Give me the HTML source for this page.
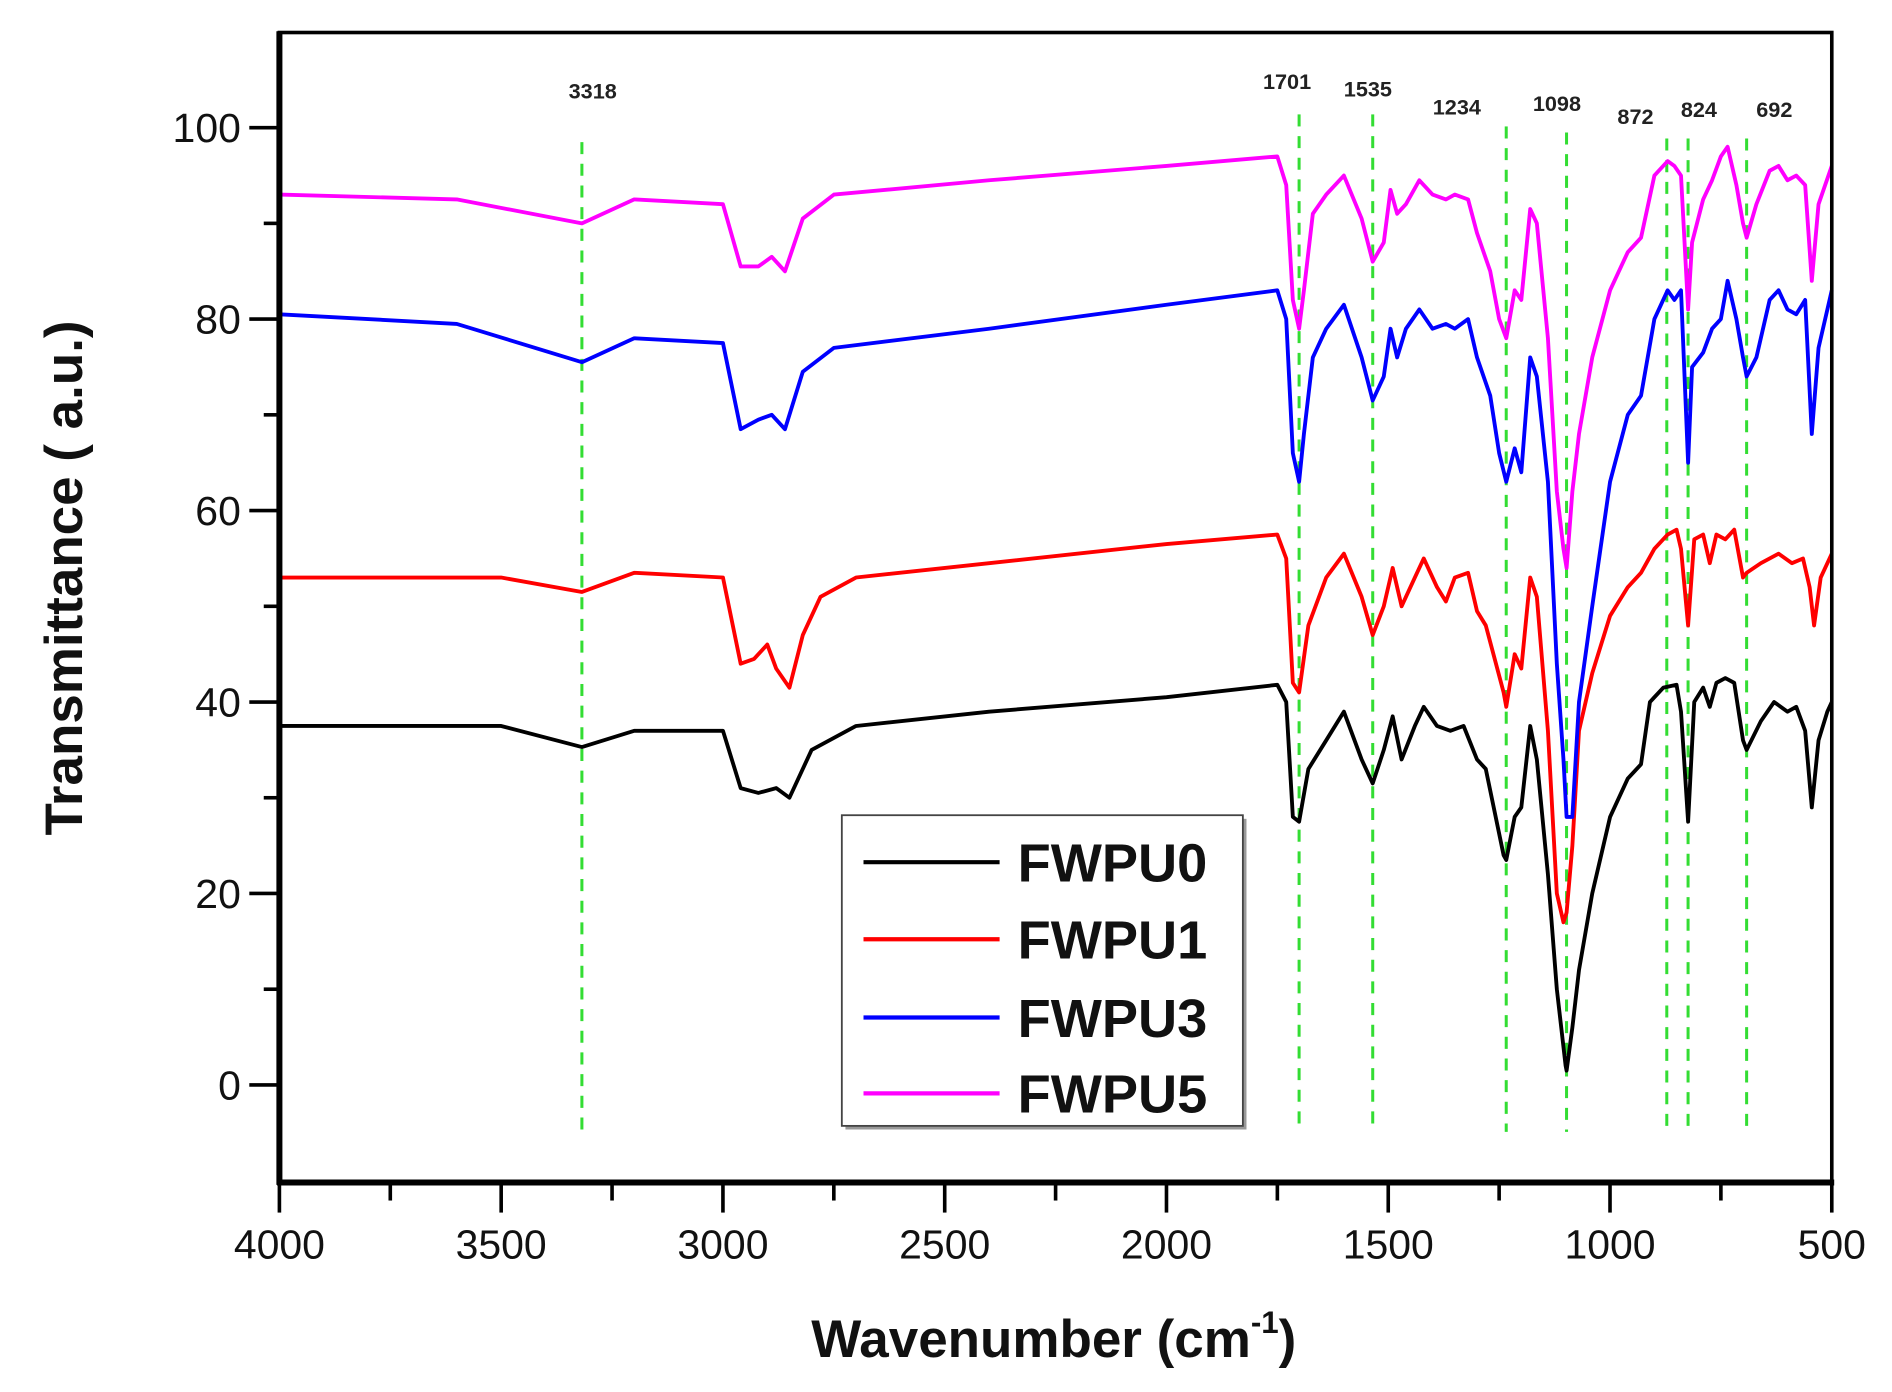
<!DOCTYPE html>
<html><head><meta charset="utf-8"><style>
html,body{margin:0;padding:0;background:#fff;}
svg{display:block;font-family:"Liberation Sans",Arial,sans-serif;}
</style></head><body>
<svg id="chart" width="1892" height="1392" viewBox="0 0 1571 1156" preserveAspectRatio="none" xmlns="http://www.w3.org/2000/svg">
<g id="grid-layer"></g>
<g id="series-layer"></g>
<g id="axes-layer"></g>
</svg>
<script>
const xTicks=[4000,3500,3000,2500,2000,1500,1000,500];
const yTicks=[0,20,40,60,80,100];
const peaks=[3318,1701,1535,1234,1098,872,824,692];
const seriesNames=["FWPU0","FWPU1","FWPU3","FWPU5"];
const seriesColors=["#000000","#ff0000","#0000ff","#ff00ff"];

const x0=[4000,3500,3318,3200,3000,2960,2920,2880,2850,2800,2700,2400,2000,1750,1730,1715,1701,1680,1640,1600,1560,1535,1510,1490,1470,1440,1420,1390,1360,1330,1300,1280,1240,1234,1215,1200,1180,1165,1140,1120,1100,1098,1085,1070,1040,1000,960,930,910,880,850,840,824,810,790,775,760,740,720,700,692,660,630,600,580,560,545,530,510,500];
const y0=[37.5,37.5,35.3,37,37,31,30.5,31,30,35,37.5,39,40.5,41.8,40,28,27.5,33,36,39,34,31.5,35,38.5,34,37.5,39.5,37.5,37,37.5,34,33,24,23.5,28,29,37.5,34,22,10,2,1.5,6,12,20,28,32,33.5,40,41.5,41.8,39,27.5,40,41.5,39.5,42,42.5,42,36,35,38,40,39,39.5,37,29,36,39,40];

const x1=[4000,3500,3318,3200,3000,2960,2930,2900,2880,2850,2820,2780,2700,2400,2000,1750,1730,1715,1701,1680,1640,1600,1560,1535,1510,1490,1470,1440,1420,1390,1370,1350,1320,1300,1280,1240,1234,1215,1200,1180,1165,1140,1120,1105,1098,1085,1070,1040,1000,960,930,900,870,850,840,824,810,790,775,760,740,720,700,692,660,620,590,565,550,540,525,500];
const y1=[53,53,51.5,53.5,53,44,44.5,46,43.5,41.5,47,51,53,54.5,56.5,57.5,55,42,41,48,53,55.5,51,47,50,54,50,53,55,52,50.5,53,53.5,49.5,48,41,39.5,45,43.5,53,51,37,20,17,18,25,37,43,49,52,53.5,56,57.5,58,56,48,57,57.5,54.5,57.5,57,58,53,53.5,54.5,55.5,54.5,55,52,48,53,55.5];

const x3=[4000,3600,3318,3200,3000,2960,2920,2890,2860,2820,2750,2400,2000,1750,1730,1715,1701,1690,1670,1640,1600,1560,1535,1510,1495,1480,1460,1430,1400,1370,1350,1320,1300,1270,1250,1234,1215,1200,1180,1165,1140,1120,1105,1098,1085,1070,1040,1000,960,930,900,870,855,840,824,815,790,770,750,735,715,700,692,670,640,620,600,580,560,545,530,500];
const y3=[80.5,79.5,75.5,78,77.5,68.5,69.5,70,68.5,74.5,77,79,81.5,83,80,66,63,68,76,79,81.5,76,71.5,74,79,76,79,81,79,79.5,79,80,76,72,66,63,66.5,64,76,74,63,44,34,28,28,40,50,63,70,72,80,83,82,83,65,75,76.5,79,80,84,80,76,74,76,82,83,81,80.5,82,68,77,83];

const x5=[4000,3600,3318,3200,3000,2960,2920,2890,2860,2820,2750,2400,2000,1750,1730,1715,1701,1690,1670,1640,1600,1560,1535,1510,1495,1480,1460,1430,1400,1370,1350,1320,1300,1270,1250,1234,1215,1200,1180,1165,1140,1120,1105,1098,1085,1070,1040,1000,960,930,900,870,855,840,824,815,790,770,750,735,715,700,692,670,640,620,600,580,560,545,530,500];
const y5=[93,92.5,90,92.5,92,85.5,85.5,86.5,85,90.5,93,94.5,96,97,94,82,79,83,91,93,95,90.5,86,88,93.5,91,92,94.5,93,92.5,93,92.5,89,85,80,78,83,82,91.5,90,78,62,56,54,62,68,76,83,87,88.5,95,96.5,96,95,81,88,92.5,94.5,97,98,94,90,88.5,92,95.5,96,94.5,95,94,84,92,96];

const NS="http://www.w3.org/2000/svg";
const L=232,R=1521,T=27,B=982;
function sx(w){return L+(4000-w)*(R-L)/3500;}
function sy(v){return 901-v*(901-106)/100;}
function mk(tag,attrs,parent){const e=document.createElementNS(NS,tag);for(const k in attrs)e.setAttribute(k,attrs[k]);parent.appendChild(e);return e;}

const grid=document.getElementById('grid-layer');
const ser=document.getElementById('series-layer');
const ax=document.getElementById('axes-layer');

const peakTop=[118,95,95,105,110,115,115,115];
const labelY=[82,74,80,95,92,103,97,97];
const labelDx=[9,-10,-4,-41,-8,-26,9,23];
peaks.forEach((p,i)=>{
  const ln=mk('line',{x1:sx(p),x2:sx(p),y1:peakTop[i],y2:940,stroke:'#33dd33','stroke-width':2.5,'stroke-dasharray':'10,8'},grid);
  
  
  const t=mk('text',{x:sx(p)+labelDx[i],y:labelY[i],'font-size':18,'font-weight':'bold','text-anchor':'middle',fill:'#222'},grid);
  t.textContent=p;
  
  
});

const xs=[x0,x1,x3,x5], ys=[y0,y1,y3,y5];
xs.forEach((xa,si)=>{
  const d=xa.map((w,i)=>(i?'L':'M')+sx(w).toFixed(1)+','+sy(ys[si][i]).toFixed(1)).join(' ');
  const p=mk('path',{d:d,fill:'none',stroke:seriesColors[si],'stroke-width':3.2,'stroke-linejoin':'round'},ser);
  
  
});

const frame=mk('rect',{x:L,y:T,width:R-L,height:B-T,fill:'none',stroke:'#000','stroke-width':3},ax);


mk('line',{x1:L,x2:L,y1:T-1,y2:B+2,stroke:'#000','stroke-width':5},ax);
mk('line',{x1:L-2,x2:R+2,y1:B,y2:B,stroke:'#000','stroke-width':5},ax);

for(let w=4000;w>=500;w-=250){
  const major=w%500===0;
  mk('line',{x1:sx(w),x2:sx(w),y1:B,y2:B+(major?25:15),stroke:'#000','stroke-width':3},ax);
}
xTicks.forEach(w=>{
  const t=mk('text',{x:sx(w),y:1045,'font-size':34,'text-anchor':'middle',fill:'#111'},ax);
  t.textContent=w;
  
  
});
for(let v=-10;v<=110;v+=10){
  if(v<-9||v>105) continue;
  const major=v%20===0;
  mk('line',{x1:L-(major?25:13),x2:L,y1:sy(v),y2:sy(v),stroke:'#000','stroke-width':3},ax);
}
yTicks.forEach(v=>{
  const t=mk('text',{x:200,y:sy(v)+12,'font-size':34,'text-anchor':'end',fill:'#111'},ax);
  t.textContent=v;
  
  
});

const xt=mk('text',{x:875,y:1127,'font-size':44,'font-weight':'bold','text-anchor':'middle',fill:'#111'},ax);
xt.innerHTML='Wavenumber (cm<tspan font-size="26" dy="-20">-1</tspan><tspan dy="20">)</tspan>';


const yt=mk('text',{x:0,y:0,'font-size':44,'font-weight':'bold','text-anchor':'middle',fill:'#111',transform:'translate(68,480) rotate(-90)'},ax);
yt.textContent='Transmittance ( a.u.)';



const lg=mk('g',{},ax);


mk('rect',{x:702,y:680,width:333,height:258,fill:'#999'},lg);
mk('rect',{x:699,y:677,width:333,height:258,fill:'#fff',stroke:'#444','stroke-width':1.5},lg);
const ly=[716,780,845,908];
seriesNames.forEach((n,i)=>{
  const g=mk('g',{},lg);
  
  
  mk('line',{x1:717,x2:830,y1:ly[i],y2:ly[i],stroke:seriesColors[i],'stroke-width':3.5},g);
  const t=mk('text',{x:845,y:ly[i]+16,'font-size':45,'font-weight':'bold',fill:'#111'},g);
  t.textContent=n;
});
</script>
</body></html>
